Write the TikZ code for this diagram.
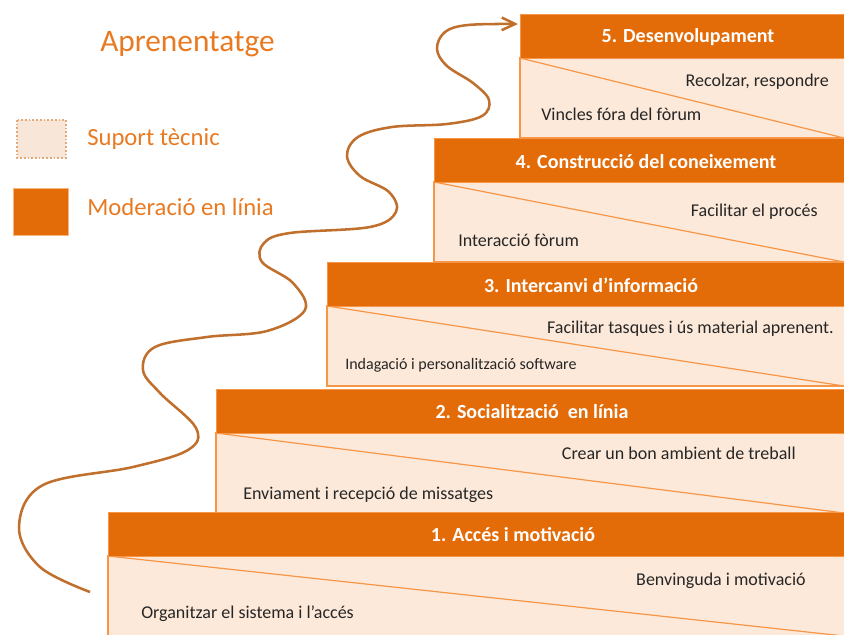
\documentclass[tikz,border=0pt]{standalone}
\usepackage{fontspec}
\setmainfont{Carlito}
\usetikzlibrary{arrows.meta}
\definecolor{hdrorange}{HTML}{E36C09}
\definecolor{bodyfill}{HTML}{FDE9D9}
\definecolor{edgeorange}{HTML}{F79646}
\definecolor{wavecol}{HTML}{C0702C}
\definecolor{legtext}{HTML}{E87A22}
\definecolor{dotedge}{HTML}{E3A875}
\definecolor{dotfill}{HTML}{F8E6D8}
\definecolor{bodytext}{HTML}{262626}
\begin{document}
\begin{tikzpicture}[x=0.75pt,y=-0.75pt,
  hdrbox/.style={fill=hdrorange, draw=edgeorange, line width=0.6pt},
  bodybox/.style={fill=bodyfill, draw=edgeorange, line width=0.8pt},
  diag/.style={draw=edgeorange, line width=0.9pt},
  hdrtext/.style={font=\fontsize{15}{18}\selectfont\bfseries, text=white, inner sep=0pt},
  bodytxt/.style={font=\fontsize{13.5}{16}\selectfont, text=bodytext, inner sep=0pt},
  smalltxt/.style={font=\fontsize{12}{14}\selectfont, text=bodytext, inner sep=0pt},
  legtxt/.style={font=\fontsize{18.5}{22}\selectfont, text=legtext, inner sep=0pt},
  titletxt/.style={font=\fontsize{23.5}{28}\selectfont, text=legtext, inner sep=0pt},
]
\useasboundingbox (0,0) rectangle (844,635);
\fill[white] (0,0) rectangle (844,635);

% steps, drawn from top to bottom
\foreach \l/\t in {520/14, 434/138, 327/262, 216/389, 108/512} {
  \path[bodybox] (\l,\t+44) rectangle (848,\t+124);
  \draw[diag] (\l,\t+44) -- (844,\t+124);
  \path[hdrbox] (\l,\t) rectangle (848,\t+44);
}

% headers
\node[hdrtext] (h5) at (688,37) {5. Desenvolupament};
\node[hdrtext] (h4) at (646,162) {4. Construcció del coneixement};
\node[hdrtext] (h3) at (591,285) {3. Intercanvi d’informació};
\node[hdrtext] (h2) at (532,412) {2. Socialització\ \ en línia};
\node[hdrtext] (h1) at (513,535) {1. Accés i motivació};

% body texts
\node[bodytxt, anchor=mid east] (r5) at (829,83) {Recolzar, respondre};
\node[bodytxt, anchor=mid west] (l5) at (541,117) {Vincles fóra del fòrum};
\node[bodytxt, anchor=mid east] (r4) at (818,213) {Facilitar el procés};
\node[bodytxt, anchor=mid west] (l4) at (458,243) {Interacció fòrum};
\node[bodytxt, anchor=mid east] (r3) at (834,330) {Facilitar tasques i ús material aprenent.};
\node[smalltxt, anchor=mid west] (l3) at (345,366) {Indagació i personalització software};
\node[bodytxt, anchor=mid east] (r2) at (796,456) {Crear un bon ambient de treball};
\node[bodytxt, anchor=mid west] (l2) at (243,496) {Enviament i recepció de missatges};
\node[bodytxt, anchor=mid east] (r1) at (806,582) {Benvinguda i motivació};
\node[bodytxt, anchor=mid west] (l1) at (141,615) {Organitzar el sistema i l’accés};

% legend
\node[titletxt, anchor=mid west] (title) at (100,48) {Aprenentatge};
\draw[dotedge, fill=dotfill, line width=1.6pt, dash pattern=on 1.3pt off 1.5pt] (17,120) rectangle (66,158);
\node[legtxt, anchor=mid west] (leg1) at (87,142) {Suport tècnic};
\path[fill=hdrorange, draw=edgeorange!70, line width=0.5pt] (13,188) rectangle (68,235);
\node[legtxt, anchor=mid west] (leg2) at (87,212) {Moderació en línia};

% wavy arrow
\coordinate (wstart) at (90,592);
\coordinate (wend) at (518,24);
\draw[wavecol, line width=1.9pt, -{Straight Barb[length=10pt,width=9.5pt]}]
  plot[smooth, tension=0.6] coordinates {(wstart) (40,567) (19,527) (43,485) (133,467) (188,450) (196,428) (160,393) (143,370) (155,347) (207,337) (267,331) (305,310) (293,283) (262,262) (264,243) (290,233) (370,227) (396,212) (389,192) (360,176) (347,156) (358,137) (392,127) (447,124) (482,116) (489,100) (473,83) (447,66) (437,49) (445,32) (468,25) (wend)};
\end{tikzpicture}
\end{document}
